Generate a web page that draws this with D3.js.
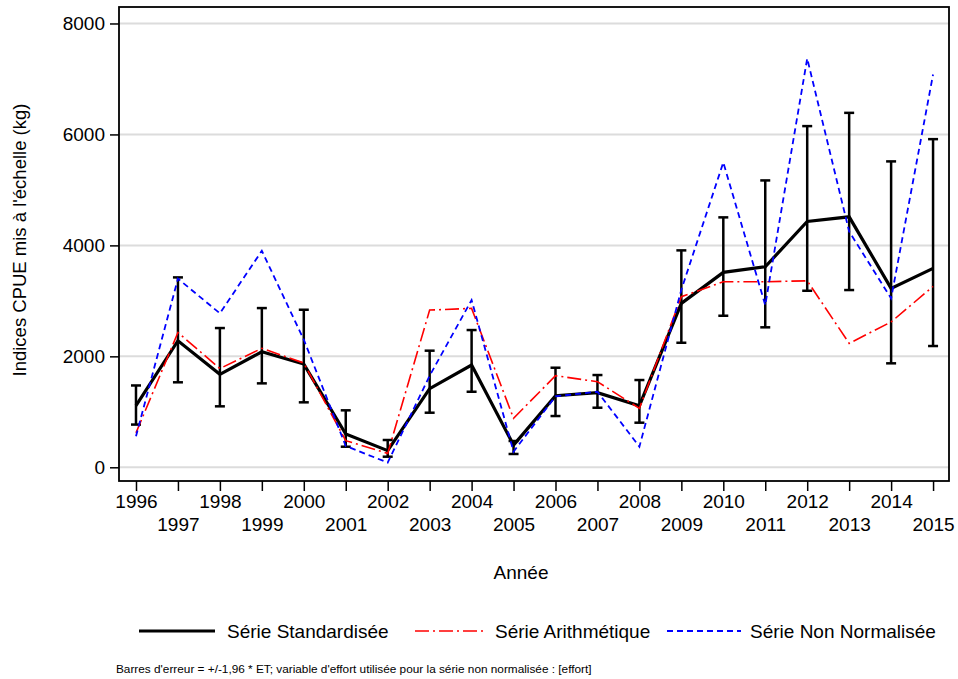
<!DOCTYPE html>
<html><head><meta charset="utf-8">
<script src="https://cdn.jsdelivr.net/npm/d3@7"></script>
<style>
html,body{margin:0;padding:0;background:#fff;}
text{font-family:"Liberation Sans",Arial,sans-serif;}
</style></head>
<body>
<svg id="chart" width="958" height="679"></svg>
<script>
const years = [1996,1997,1998,1999,2000,2001,2002,2003,2004,2005,2006,2007,2008,2009,2010,2011,2012,2013,2014,2015];
const standardised = [1110,2281,1676,2083,1861,600,300,1417,1843,400,1290,1344,1110,2955,3514,3615,4430,4515,3225,3586];
const standardisedLow = [770,1532,1099,1513,1171,371,191,984,1362,240,924,1074,804,2245,2732,2523,3182,3195,1874,2186];
const standardisedHigh = [1475,3423,2510,2870,2840,1027,492,2102,2474,474,1795,1663,1573,3910,4505,5171,6150,6389,5514,5915];
const arithmetic = [620,2430,1780,2144,1880,480,250,2834,2865,883,1651,1543,1063,3075,3344,3344,3362,2234,2620,3260];
const nonNormalised = [560,3400,2775,3903,2300,384,84,1650,3014,282,1280,1362,372,3200,5495,2924,7369,4250,3045,7080];
const yTicks = [0,2000,4000,6000,8000];
const seriesNames = ["Série Standardisée","Série Arithmétique","Série Non Normalisée"];

const svg = d3.select("#chart");
const L=119, R=949, T=7, B=481;
const x = d3.scaleLinear().domain([1995.595, 2015.38]).range([L, R]);
const y = d3.scaleLinear().domain([-247, 8297]).range([B, T]);

// gridlines
svg.append("g").selectAll("line").data(yTicks).join("line")
  .attr("x1", L).attr("x2", R).attr("y1", d=>y(d)).attr("y2", d=>y(d))
  .attr("stroke", "#dcdcdc").attr("stroke-width", 2);

// y axis
const yAxis = svg.append("g").attr("transform", `translate(${L},0)`)
  .call(d3.axisLeft(y).tickValues(yTicks).tickSize(9).tickPadding(5).tickFormat(d3.format("d")));
yAxis.select(".domain").remove();
yAxis.selectAll("line").attr("stroke","#000").attr("stroke-width",1.5);
yAxis.selectAll("text").attr("font-size", 19).attr("fill","#000")
  .attr("font-family","'Liberation Sans',Arial,sans-serif");

// x axis
const xAxis = svg.append("g").attr("transform", `translate(0,${B})`)
  .call(d3.axisBottom(x).tickValues(years).tickSize(10).tickPadding(4).tickFormat(d3.format("d")));
xAxis.select(".domain").remove();
xAxis.selectAll("line").attr("stroke","#000").attr("stroke-width",1.5);
xAxis.selectAll("text").attr("font-size", 19).attr("fill","#000")
  .attr("font-family","'Liberation Sans',Arial,sans-serif")
  .attr("dy", (d,i)=> i%2===0 ? "0.71em" : "1.87em");

// frame
svg.append("rect").attr("x",L).attr("y",T).attr("width",R-L).attr("height",B-T)
  .attr("fill","none").attr("stroke","#000").attr("stroke-width",1.8);

// error bars
const eb = svg.append("g");
years.forEach((yr,i)=>{
  eb.append("line").attr("x1",x(yr)).attr("x2",x(yr))
    .attr("y1",y(standardisedLow[i])).attr("y2",y(standardisedHigh[i]))
    .attr("stroke","#000").attr("stroke-width",2.5);
  [standardisedLow[i], standardisedHigh[i]].forEach(v=>{
    eb.append("line").attr("x1",x(yr)-5).attr("x2",x(yr)+5)
      .attr("y1",y(v)).attr("y2",y(v)).attr("stroke","#000").attr("stroke-width",2.5);
  });
});

const line = d3.line().x(d=>x(d[0])).y(d=>y(d[1]));
function draw(vals, color, w, dash){
  svg.append("path").datum(years.map((yr,i)=>[yr, vals[i]]))
    .attr("d", line).attr("fill","none").attr("stroke",color)
    .attr("stroke-width",w).attr("stroke-dasharray",dash||null)
    .attr("stroke-linejoin","miter");
}
draw(standardised, "#000", 3.2, null);
draw(arithmetic, "#ff0000", 1.6, "14,4,2,4");
draw(nonNormalised, "#0000ff", 1.8, "6,4");

// axis titles
svg.append("text").attr("x", 521).attr("y", 579).attr("text-anchor","middle")
  .attr("font-size",19).text("Année");
svg.append("text").attr("transform","translate(26,240) rotate(-90)").attr("text-anchor","middle")
  .attr("font-size",18.5).text("Indices CPUE mis à l'échelle (kg)");

// legend
const leg = [
  {x1:139,x2:215,tx:227,color:"#000",w:3.2,dash:null},
  {x1:415,x2:487,tx:495,color:"#ff0000",w:1.6,dash:"14,4,2,4"},
  {x1:667,x2:741,tx:750,color:"#0000ff",w:1.8,dash:"6,4"}
];
leg.forEach((l,i)=>{
  svg.append("line").attr("x1",l.x1).attr("x2",l.x2).attr("y1",631).attr("y2",631)
    .attr("stroke",l.color).attr("stroke-width",l.w).attr("stroke-dasharray",l.dash);
  svg.append("text").attr("x",l.tx).attr("y",631).attr("dy","0.35em")
    .attr("font-size",19).text(seriesNames[i]);
});

svg.append("text").attr("x",116).attr("y",669).attr("dy","0.35em").attr("font-size",11.8)
  .text("Barres d'erreur = +/-1,96 * ET; variable d'effort utilisée pour la série non normalisée : [effort]");
</script>
</body></html>
